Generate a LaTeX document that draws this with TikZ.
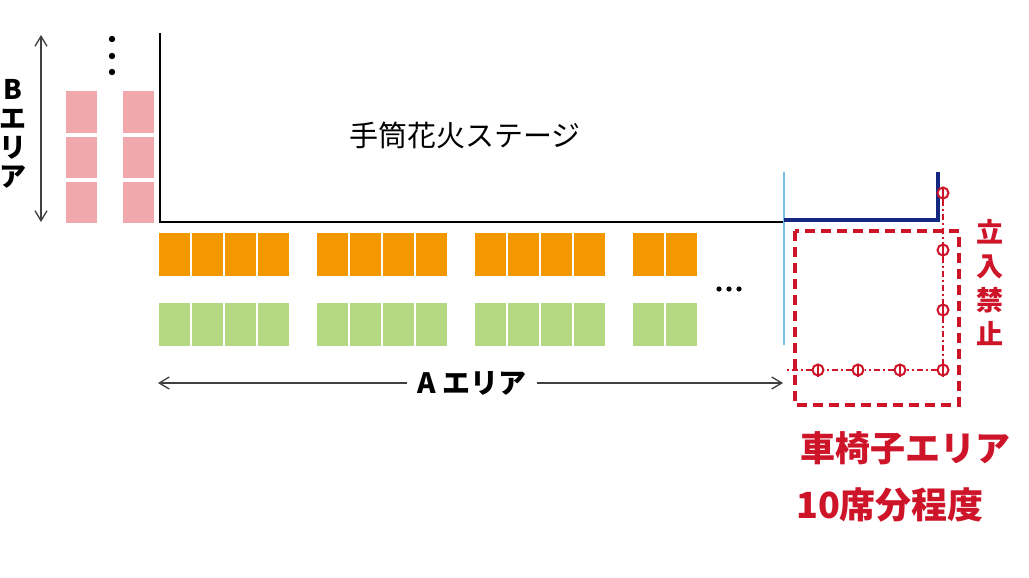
\documentclass[tikz,border=0pt]{standalone}
\usepackage{fontspec}
\newfontfamily\jp{Noto Sans CJK JP}
\definecolor{pinkc}{RGB}{241,168,172}
\definecolor{orc}{RGB}{243,152,0}
\definecolor{grc}{RGB}{181,216,130}
\definecolor{redc}{RGB}{205,20,40}
\definecolor{navy}{RGB}{20,40,130}
\definecolor{lblue}{RGB}{120,190,235}
\usetikzlibrary{arrows.meta}
\begin{document}
\begin{tikzpicture}[x=1pt,y=-1pt,
  seat/.style={minimum width=31pt,minimum height=41pt,inner sep=0,draw=none},
  arr/.style={<->,>={Straight Barb[length=10pt,width=12pt,line width=1.3pt]},line width=1.3pt,draw=black!75},
  circ/.style={circle,draw=redc,line width=2pt,minimum size=11pt,inner sep=0,fill=white}]
\useasboundingbox (0,0) rectangle (1029,578);
% B area seats
\foreach \x/\n in {81/a,138/b}{
 \foreach \y/\m in {112/1,157/2,202/3}{
  \node[seat,fill=pinkc] (p\n\m) at (\x,\y) {};}}
\foreach \y/\k in {39/1,56/2,72/3}{\fill (112,\y) circle (3.2pt);}
% stage
\coordinate (s1) at (160,33); \coordinate (s2) at (160,222); \coordinate (s3) at (783,222);
\draw[line width=2.8pt] (s1) -- (s2) -- (s3);
\node[font=\jp\fontsize{29}{29}\selectfont] (stage) at (465,135) {手筒花火ステージ};
% B arrow
\coordinate (b1) at (41,35); \coordinate (b2) at (41,222);
\draw[arr] (b1) -- (b2);
\node[font=\jp\bfseries\fontsize{27}{28}\selectfont,align=center,inner sep=0] (blab) at (13,134) {B\\[1pt]エ\\[1pt]リ\\[1pt]ア};
% A area seats
\foreach \gx/\num in {158/4,316/4,474/4,632/2}{
 \foreach \i in {1,...,\num}{
  \node[seat,minimum height=43pt,fill=orc] (o\gx\i) at ({\gx+16.5+33*(\i-1)},254.5) {};
  \node[seat,minimum height=43pt,fill=grc] (g\gx\i) at ({\gx+16.5+33*(\i-1)},324) {};}}
\foreach \x/\k in {719/1,729/2,739/3}{\fill (\x,289) circle (2.6pt);}
% A arrow
\coordinate (a1) at (158,383); \coordinate (a2) at (783,383);
\node[font=\jp\bfseries\fontsize{28}{28}\selectfont,fill=white,inner xsep=10pt] (alab) at (472,383) {A エリア};
\draw[arr,->] (alab.west) -- (a1);
\draw[arr,->] (alab.east) -- (a2);
% blue lines
\coordinate (l1) at (784,172); \coordinate (l2) at (784,345);
\draw[lblue,line width=2pt] (l1) -- (l2);
\coordinate (n1) at (784,220); \coordinate (n2) at (938,220); \coordinate (n3) at (938,172);
\draw[navy,line width=4pt] (n1) -- (n2) -- (n3);
% red dashed rect
\draw[redc,line width=4pt,dash pattern=on 10pt off 6pt] (795,231) rectangle (959,405);
% dash-dot boundary
\node[circ] (c1) at (943,193) {};
\node[circ] (c2) at (943,250) {};
\node[circ] (c3) at (943,310) {};
\node[circ] (c4) at (943,370) {};
\node[circ] (c5) at (900,370) {};
\node[circ] (c6) at (858,370) {};
\node[circ] (c7) at (818,370) {};
\coordinate (c8) at (785,370);
\draw[redc,line width=2pt,dash pattern=on 6pt off 3pt on 2pt off 3pt] (c1) -- (c2) -- (c3) -- (c4) -- (c5) -- (c6) -- (c7) -- (c8);
\foreach \c in {c1,c2,c3,c4,c5,c6,c7}{\draw[redc,line width=1.6pt] (\c.north) -- (\c.south);}
\node[redc,font=\jp\bfseries\fontsize{27}{34}\selectfont,align=center,inner sep=0] (nokeep) at (990,283) {立\\入\\禁\\止};
\node[redc,font=\jp\bfseries\fontsize{35}{35}\selectfont] (wc1) at (905,448) {車椅子エリア};
\node[redc,font=\jp\bfseries\fontsize{36}{36}\selectfont] (wc2) at (890,505) {10席分程度};
\end{tikzpicture}
\end{document}
